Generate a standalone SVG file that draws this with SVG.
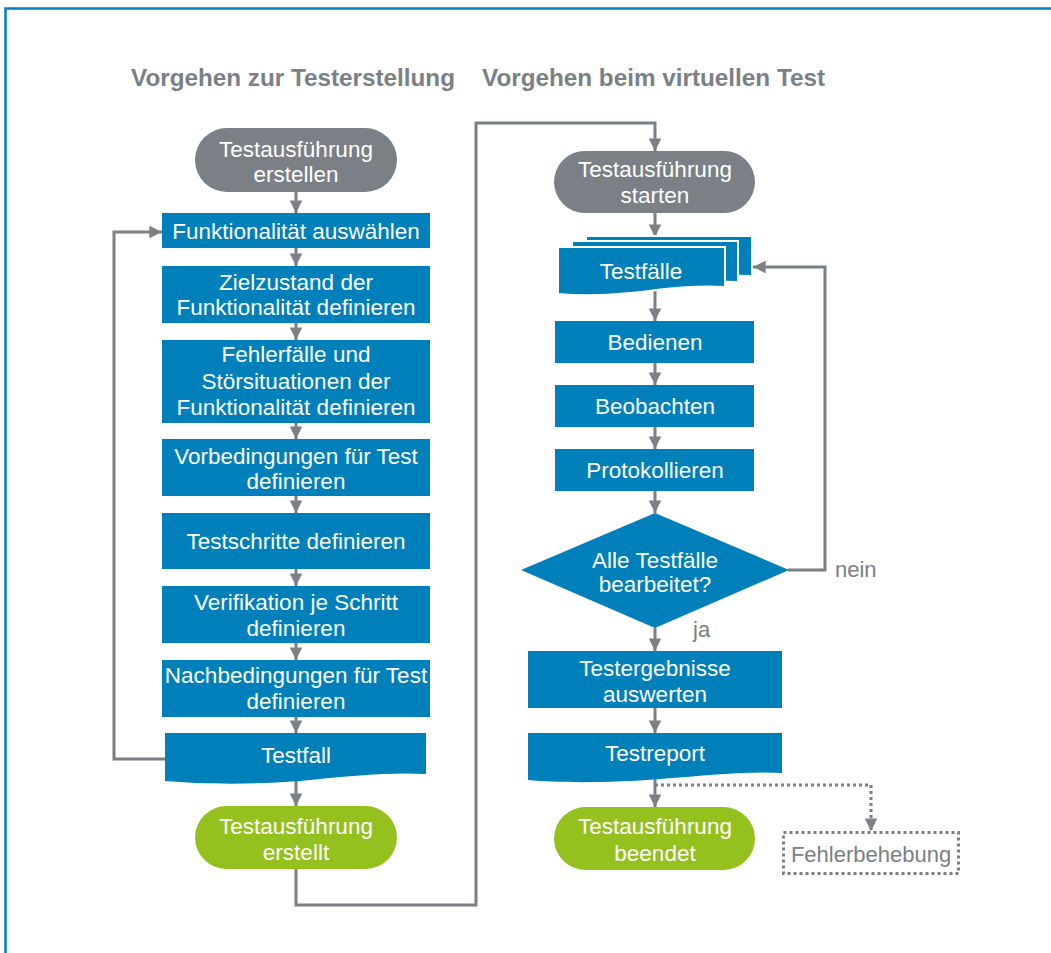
<svg xmlns="http://www.w3.org/2000/svg" width="1051" height="953" viewBox="0 0 1051 953">
  <defs>
    <style>
      .title { font-family: "Liberation Sans", Arial, sans-serif; font-weight: bold; font-size: 24px; fill: #7a8085; }
      .lbl { font-family: "Liberation Sans", Arial, sans-serif; font-size: 22.5px; fill: #ffffff; text-anchor: middle; }
      .glbl { font-family: "Liberation Sans", Arial, sans-serif; font-size: 22px; fill: #7a8085; }
      .box { fill: #0080ba; }
      .start { fill: #7a8085; }
      .end { fill: #95c11f; }
      .doc { fill: #0080ba; stroke: #ffffff; stroke-width: 2; }
      .con { fill: none; stroke: #7a8085; stroke-width: 3; }
      .dot { fill: none; stroke: #7a8085; stroke-width: 3; stroke-dasharray: 3 3; }
    </style>
    <marker id="arr" viewBox="0 0 10 10" refX="10" refY="5" markerWidth="4.2" markerHeight="4.2" markerUnits="strokeWidth" orient="auto">
      <path d="M0,0 L10,5 L0,10 Z" fill="#7a8085"/>
    </marker>
  </defs>

  <rect width="1051" height="953" fill="#ffffff"/>
  <!-- frame -->
  <path d="M5.5,953 V8.5 H1051" fill="none" stroke="#0080ba" stroke-width="2.5"/>

  <text class="title" x="131" y="86" textLength="324" lengthAdjust="spacingAndGlyphs">Vorgehen zur Testerstellung</text>
  <text class="title" x="482" y="86" textLength="343" lengthAdjust="spacingAndGlyphs">Vorgehen beim virtuellen Test</text>

  <!-- connectors -->
  <g id="connectors">
    <line class="con" x1="296" y1="192" x2="296" y2="213" marker-end="url(#arr)"/>
    <line class="con" x1="296" y1="248" x2="296" y2="266" marker-end="url(#arr)"/>
    <line class="con" x1="296" y1="323" x2="296" y2="340" marker-end="url(#arr)"/>
    <line class="con" x1="296" y1="423" x2="296" y2="439" marker-end="url(#arr)"/>
    <line class="con" x1="296" y1="496" x2="296" y2="513" marker-end="url(#arr)"/>
    <line class="con" x1="296" y1="569" x2="296" y2="586" marker-end="url(#arr)"/>
    <line class="con" x1="296" y1="643" x2="296" y2="660" marker-end="url(#arr)"/>
    <line class="con" x1="296" y1="717" x2="296" y2="733" marker-end="url(#arr)"/>
    <line class="con" x1="296" y1="780" x2="296" y2="806" marker-end="url(#arr)"/>
    <!-- loop back to next functionality -->
    <polyline class="con" points="165,759 114,759 114,232 162,232" marker-end="url(#arr)"/>
    <!-- hand-over to the virtual test -->
    <polyline class="con" points="296,869 296,905 476,905 476,123 655,123 655,151" marker-end="url(#arr)"/>

    <line class="con" x1="655" y1="213" x2="655" y2="237" marker-end="url(#arr)"/>
    <line class="con" x1="655" y1="290" x2="655" y2="321" marker-end="url(#arr)"/>
    <line class="con" x1="655" y1="363" x2="655" y2="385" marker-end="url(#arr)"/>
    <line class="con" x1="655" y1="427" x2="655" y2="449" marker-end="url(#arr)"/>
    <line class="con" x1="655" y1="491" x2="655" y2="513" marker-end="url(#arr)"/>
    <line class="con" x1="655" y1="628" x2="655" y2="651" marker-end="url(#arr)"/>
    <line class="con" x1="655" y1="708" x2="655" y2="733" marker-end="url(#arr)"/>
    <line class="con" x1="655" y1="779" x2="655" y2="807" marker-end="url(#arr)"/>
    <!-- "nein" loop -->
    <polyline class="con" points="788,570 825,570 825,267 753,267" marker-end="url(#arr)"/>
    <!-- optional path to fault handling -->
    <polyline class="dot" points="655,785 871,785 871,831" marker-end="url(#arr)"/>
    <text class="glbl" x="835" y="577">nein</text>
    <text class="glbl" x="693" y="637">ja</text>
  </g>

  <!-- left column -->
  <g id="n-start1">
    <rect class="start" x="195" y="128" width="202" height="64" rx="32"/>
    <text class="lbl" x="296" y="157">Testausführung</text>
    <text class="lbl" x="296" y="182">erstellen</text>
  </g>
  <g id="n-func">
    <rect class="box" x="162" y="213" width="268" height="35"/>
    <text class="lbl" x="296" y="239">Funktionalität auswählen</text>
  </g>
  <g id="n-ziel">
    <rect class="box" x="162" y="266" width="268" height="57"/>
    <text class="lbl" x="296" y="290">Zielzustand der</text>
    <text class="lbl" x="296" y="315">Funktionalität definieren</text>
  </g>
  <g id="n-fehler">
    <rect class="box" x="162" y="340" width="268" height="83"/>
    <text class="lbl" x="296" y="362">Fehlerfälle und</text>
    <text class="lbl" x="296" y="389">Störsituationen der</text>
    <text class="lbl" x="296" y="415">Funktionalität definieren</text>
  </g>
  <g id="n-vor">
    <rect class="box" x="162" y="439" width="268" height="57"/>
    <text class="lbl" x="296" y="464">Vorbedingungen für Test</text>
    <text class="lbl" x="296" y="489">definieren</text>
  </g>
  <g id="n-schritte">
    <rect class="box" x="162" y="513" width="268" height="56"/>
    <text class="lbl" x="296" y="549">Testschritte definieren</text>
  </g>
  <g id="n-verif">
    <rect class="box" x="162" y="586" width="268" height="57"/>
    <text class="lbl" x="296" y="610">Verifikation je Schritt</text>
    <text class="lbl" x="296" y="636">definieren</text>
  </g>
  <g id="n-nach">
    <rect class="box" x="162" y="660" width="268" height="57"/>
    <text class="lbl" x="296" y="683">Nachbedingungen für Test</text>
    <text class="lbl" x="296" y="709">definieren</text>
  </g>
  <g id="n-testfall">
    <path class="box" d="M165,733 H426 V774 C390,772 350,776 300,781 C250,785 200,784 165,781 Z"/>
    <text class="lbl" x="296" y="763">Testfall</text>
  </g>
  <g id="n-end1">
    <rect class="end" x="195" y="806" width="202" height="63" rx="31.5"/>
    <text class="lbl" x="296" y="834">Testausführung</text>
    <text class="lbl" x="296" y="860">erstellt</text>
  </g>

  <!-- right column -->
  <g id="n-start2">
    <rect class="start" x="554" y="151" width="201" height="62" rx="31"/>
    <text class="lbl" x="655" y="177">Testausführung</text>
    <text class="lbl" x="655" y="203">starten</text>
  </g>
  <g id="n-testfaelle">
    <path class="doc" d="M586,236 H752 V276 C730,275 700,277 680,279 L586,279 Z"/>
    <path class="doc" d="M572,241 H738 V282 C710,281 690,283 660,285 L572,285 Z"/>
    <path class="doc" d="M558,247 H725 V287 C690,285 660,290 630,293 C600,296 580,296 558,294 Z"/>
    <text class="lbl" x="641" y="279">Testfälle</text>
  </g>
  <g id="n-bedienen">
    <rect class="box" x="555" y="321" width="199" height="42"/>
    <text class="lbl" x="655" y="350">Bedienen</text>
  </g>
  <g id="n-beobachten">
    <rect class="box" x="555" y="385" width="199" height="42"/>
    <text class="lbl" x="655" y="414">Beobachten</text>
  </g>
  <g id="n-protokoll">
    <rect class="box" x="555" y="449" width="199" height="42"/>
    <text class="lbl" x="655" y="478">Protokollieren</text>
  </g>
  <g id="n-entscheid">
    <polygon class="box" points="655,513 789,570 655,628 521,570"/>
    <text class="lbl" x="655" y="568">Alle Testfälle</text>
    <text class="lbl" x="655" y="592">bearbeitet?</text>
  </g>
  <g id="n-auswerten">
    <rect class="box" x="528" y="651" width="254" height="57"/>
    <text class="lbl" x="655" y="676">Testergebnisse</text>
    <text class="lbl" x="655" y="702">auswerten</text>
  </g>
  <g id="n-testreport">
    <path class="box" d="M528,733 H782 V773 C750,771 710,775 660,779 C610,783 560,783 528,780 Z"/>
    <text class="lbl" x="655" y="761">Testreport</text>
  </g>
  <g id="n-end2">
    <rect class="end" x="554" y="807" width="201" height="63" rx="31.5"/>
    <text class="lbl" x="655" y="834">Testausführung</text>
    <text class="lbl" x="655" y="861">beendet</text>
  </g>
  <g id="n-fehlerbehebung">
    <rect x="783.5" y="832.5" width="175" height="41" fill="#ffffff" stroke="#7a8085" stroke-width="3" stroke-dasharray="3 3"/>
    <text class="glbl" x="871" y="862" text-anchor="middle">Fehlerbehebung</text>
  </g>
</svg>
